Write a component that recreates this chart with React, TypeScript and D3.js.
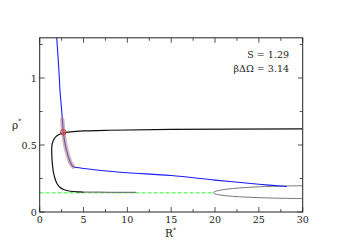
import React from "react";
import * as d3 from "d3";

// blue curve (R*, rho*)
const blueR = [1.94, 2.1, 2.24, 2.31, 2.45, 2.6, 2.69, 2.92, 3.26, 3.5, 3.83, 4.5, 7, 10, 15, 20, 25, 28.2];
const blueRho = [1.3, 1.15, 1.0, 0.91, 0.8, 0.68, 0.6, 0.5, 0.413, 0.37, 0.338, 0.33, 0.31, 0.293, 0.272, 0.238, 0.207, 0.19];

// highlighted (brown) stretch of the blue curve
const bandR = [2.57, 2.69, 2.92, 3.26, 3.5, 3.83];
const bandRho = [0.69, 0.6, 0.5, 0.413, 0.37, 0.338];

// black loop
const blackR = [30, 15, 8, 5, 3.5, 2.7, 2.2, 1.85, 1.6, 1.45, 1.38, 1.37, 1.4, 1.46, 1.56, 1.72, 1.95, 2.3, 2.8, 3.5, 4.5, 5];
const blackRho = [0.62, 0.616, 0.61, 0.605, 0.598, 0.59, 0.578, 0.562, 0.54, 0.515, 0.485, 0.45, 0.4, 0.35, 0.3, 0.255, 0.215, 0.185, 0.166, 0.155, 0.15, 0.149];
// grey tail of the lower black branch
const tailR = [5, 8, 11];
const tailRho = [0.149, 0.147, 0.147];

// grey loop on the right
const loopR = [30, 28, 25, 22, 20.5, 19.85, 19.8, 19.9, 20.5, 22, 25, 28, 30];
const loopRho = [0.196, 0.194, 0.188, 0.175, 0.162, 0.149, 0.144, 0.138, 0.128, 0.117, 0.107, 0.102, 0.1];

// green dashed level
const greenR = [0, 19.8];
const greenRho = [0.143, 0.143];

const marker = { r: 2.69, rho: 0.595 };

const xMajor = [0, 5, 10, 15, 20, 25, 30];
const xMinor = [2.5, 7.5, 12.5, 17.5, 22.5, 27.5];
const yMajor = [0, 0.5, 1];
const yMinor = [0.25, 0.75, 1.25];
const yLabels = ["0", "0.5", "1"];

const W = 341;
const H = 250;
const m = { left: 39.7, right: 38.3, top: 37.8, bottom: 38 };
const FONT = "DejaVu Serif";

export default function App() {
  const x = d3.scaleLinear().domain([0, 30]).range([m.left, W - m.right]);
  const y = d3.scaleLinear().domain([0, 1.3]).range([H - m.bottom, m.top]);

  const mk = (rs: number[], ps: number[]) =>
    d3
      .line<number>()
      .x((_, i) => x(rs[i]))
      .y((_, i) => y(ps[i]))
      .curve(d3.curveCatmullRom.alpha(0.5))(rs) || "";

  const x0 = x(0), x1 = x(30), y0 = y(0), y1 = y(1.3);
  const tickCol = "#555";

  return (
    <svg width={W} height={H} style={{ position: "absolute", left: 0, top: 0, background: "#fff" }}>
      <defs>
        <clipPath id="plot">
          <rect x={x0} y={y1} width={x1 - x0} height={y0 - y1} />
        </clipPath>
      </defs>
      <g clipPath="url(#plot)" fill="none">
        <path d={mk(greenR, greenRho)} stroke="#70ff70" strokeWidth={1.5} strokeDasharray="4,2" />
        <path d={mk(tailR, tailRho)} stroke="#777" strokeWidth={1.2} />
        <path d={mk(loopR, loopRho)} stroke="#777" strokeWidth={1} />
        <path d={mk(blackR, blackRho)} stroke="#111" strokeWidth={1.2} />
        <path d={mk(blueR, blueRho)} stroke="#1a1aff" strokeWidth={1.1} />
        <path d={mk(bandR, bandRho)} stroke="#b07b7b" strokeOpacity={0.55} strokeWidth={4.5} strokeLinecap="round" />
        <circle cx={x(marker.r)} cy={y(marker.rho)} r={2.8} fill="rgba(220,90,90,0.3)" stroke="#e03535" strokeWidth={1} />
      </g>
      {/* ticks */}
      <g stroke={tickCol} strokeWidth={1}>
        {xMajor.map((v) => (
          <g key={"xm" + v}>
            <line x1={x(v)} x2={x(v)} y1={y0} y2={y0 - 5} />
            <line x1={x(v)} x2={x(v)} y1={y1} y2={y1 + 5} />
          </g>
        ))}
        {xMinor.map((v) => (
          <g key={"xn" + v}>
            <line x1={x(v)} x2={x(v)} y1={y0} y2={y0 - 3} />
            <line x1={x(v)} x2={x(v)} y1={y1} y2={y1 + 3} />
          </g>
        ))}
        {yMajor.map((v) => (
          <g key={"ym" + v}>
            <line x1={x0} x2={x0 + 5} y1={y(v)} y2={y(v)} />
            <line x1={x1} x2={x1 - 5} y1={y(v)} y2={y(v)} />
          </g>
        ))}
        {yMinor.map((v) => (
          <g key={"yn" + v}>
            <line x1={x0} x2={x0 + 3} y1={y(v)} y2={y(v)} />
            <line x1={x1} x2={x1 - 3} y1={y(v)} y2={y(v)} />
          </g>
        ))}
      </g>
      <rect x={x0} y={y1} width={x1 - x0} height={y0 - y1} fill="none" stroke="#222" strokeWidth={1} />
      <g fill="#222">
        {xMajor.map((v) => (
          <text key={"xl" + v} x={x(v)} y={y0 + 11} textAnchor="middle" fontFamily={FONT} fontSize={9.5}>
            {v}
          </text>
        ))}
        {yMajor.map((v, i) => (
          <text key={"yl" + v} x={x0 - 3} y={y(v) + 4} textAnchor="end" fontFamily={FONT} fontSize={9.5}>
            {yLabels[i]}
          </text>
        ))}
        <text x={165} y={237} fontFamily={FONT} fontSize={10.5}>
          R<tspan fontSize={6} dy={-5}>*</tspan>
        </text>
        <text x={12} y={129} fontFamily={FONT} fontSize={10.5}>
          ρ<tspan fontSize={6} dy={-6}>*</tspan>
        </text>
        <text x={289} y={58} textAnchor="end" fontFamily={FONT} fontSize={9.5}>
          S = 1.29
        </text>
        <text x={289} y={72} textAnchor="end" fontFamily={FONT} fontSize={9.5}>
          βΔΩ = 3.14
        </text>
      </g>
    </svg>
  );
}
